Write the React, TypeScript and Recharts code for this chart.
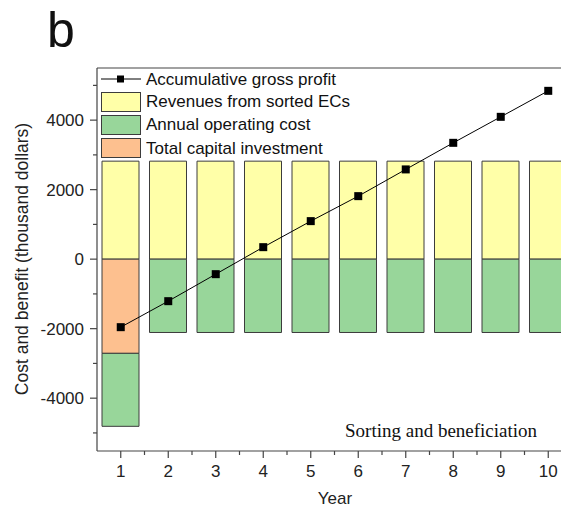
import { ComposedChart, Bar, Line, XAxis, YAxis, ReferenceLine } from 'recharts';

const years = [1, 2, 3, 4, 5, 6, 7, 8, 9, 10];
const revenues = [2820, 2820, 2820, 2820, 2820, 2820, 2820, 2820, 2820, 2820];
const capital = [-2710, 0, 0, 0, 0, 0, 0, 0, 0, 0];
const operating = [-2100, -2110, -2110, -2110, -2110, -2110, -2110, -2110, -2110, -2110];
const profit = [-1957, -1209, -432, 345, 1094, 1813, 2582, 3347, 4095, 4843];

const yTicks = [-5000, -4000, -3000, -2000, -1000, 0, 1000, 2000, 3000, 4000, 5000];
const xTicks = [1, 1.5, 2, 2.5, 3, 3.5, 4, 4.5, 5, 5.5, 6, 6.5, 7, 7.5, 8, 8.5, 9, 9.5, 10, 10.5];

const data = years.map((year, i) => ({
  year,
  revenue: revenues[i],
  capital: capital[i],
  operating: operating[i],
  profit: profit[i],
}));

const YELLOW = '#ffffa8';
const GREEN = '#98d69a';
const ORANGE = '#fdc08f';
const EDGE = '#3c3c3c';
const AXIS = '#444';
const FONT = 'Arial, "Liberation Sans", sans-serif';

const YTick = ({ x, y, payload }: any) => {
  const major = payload.value % 2000 === 0;
  return (
    <g>
      <line x1={x} x2={x - (major ? 7 : 4)} y1={y} y2={y} stroke={AXIS} strokeWidth={1.2} />
      {major && (
        <text x={x - 13} y={y + 6} textAnchor="end" fontSize={17} fill="#222" fontFamily={FONT}>
          {payload.value}
        </text>
      )}
    </g>
  );
};

const XTick = ({ x, y, payload }: any) => {
  const major = Number.isInteger(payload.value);
  return (
    <g>
      <line x1={x} x2={x} y1={y} y2={y + (major ? 7 : 4)} stroke={AXIS} strokeWidth={1.2} />
      {major && (
        <text x={x} y={y + 26} textAnchor="middle" fontSize={17} fill="#222" fontFamily={FONT}>
          {payload.value}
        </text>
      )}
    </g>
  );
};

const SquareDot = ({ cx, cy }: any) => (
  <rect x={cx - 4} y={cy - 4} width={8} height={8} fill="#000" />
);

const legendRows = [
  { label: 'Revenues from sorted ECs', color: YELLOW },
  { label: 'Annual operating cost', color: GREEN },
  { label: 'Total capital investment', color: ORANGE },
];

export default function App() {
  return (
    <div style={{ position: 'fixed', left: 0, top: 0, width: 561, height: 508, overflow: 'hidden', background: '#fff', fontFamily: FONT }}>
      <div style={{ position: 'absolute', left: 47, top: 5, fontSize: 50, lineHeight: '50px', color: '#111' }}>b</div>

      <ComposedChart
        width={600}
        height={508}
        data={data}
        stackOffset="sign"
        margin={{ top: 68, right: 28, bottom: 0, left: 0 }}
      >
        <XAxis
          dataKey="year"
          type="number"
          domain={[0.5, 10.5]}
          ticks={xTicks}
          interval={0}
          height={57}
          tickSize={0}
          tickMargin={0}
          tickLine={false}
          tick={<XTick />}
          axisLine={{ stroke: AXIS, strokeWidth: 1.2 }}
          allowDataOverflow
        />
        <YAxis
          type="number"
          domain={[-5520, 5500]}
          ticks={yTicks}
          interval={0}
          width={97}
          tickSize={0}
          tickMargin={0}
          tickLine={false}
          tick={<YTick />}
          axisLine={{ stroke: AXIS, strokeWidth: 1.2 }}
          allowDataOverflow
        />
        <ReferenceLine y={5500} stroke={AXIS} strokeWidth={1.2} />
        <Bar dataKey="revenue" stackId="a" fill={YELLOW} stroke={EDGE} strokeWidth={1} barSize={37} isAnimationActive={false} />
        <Bar dataKey="capital" stackId="a" fill={ORANGE} stroke={EDGE} strokeWidth={1} barSize={37} isAnimationActive={false} />
        <Bar dataKey="operating" stackId="a" fill={GREEN} stroke={EDGE} strokeWidth={1} barSize={37} isAnimationActive={false} />
        <Line
          dataKey="profit"
          stroke="#000"
          strokeWidth={1}
          dot={<SquareDot />}
          activeDot={false}
          isAnimationActive={false}
        />
      </ComposedChart>

      {/* legend */}
      <div style={{ position: 'absolute', left: 100, top: 68, fontSize: 17, color: '#111', lineHeight: '23px' }}>
        <div style={{ display: 'flex', alignItems: 'center', height: 22 }}>
          <svg width={42} height={12} style={{ marginRight: 4 }}>
            <line x1={1} x2={41} y1={6} y2={6} stroke="#000" strokeWidth={1} />
            <rect x={17} y={2.5} width={7} height={7} fill="#000" />
          </svg>
          Accumulative gross profit
        </div>
        {legendRows.map((r) => (
          <div key={r.label} style={{ display: 'flex', alignItems: 'center', height: 23.3 }}>
            <div style={{ width: 38, height: 18, background: r.color, border: `1px solid ${EDGE}`, marginRight: 5, marginLeft: 1 }} />
            {r.label}
          </div>
        ))}
      </div>

      <div style={{ position: 'absolute', left: 345, top: 420, fontSize: 19, fontFamily: '"Liberation Serif", "Times New Roman", serif', color: '#111' }}>
        Sorting and beneficiation
      </div>

      <div
        style={{
          position: 'absolute',
          left: 22,
          top: 259,
          transform: 'translate(-50%, -50%) rotate(-90deg)',
          whiteSpace: 'nowrap',
          fontSize: 17.5,
          color: '#222',
        }}
      >
        Cost and benefit (thousand dollars)
      </div>

      <div style={{ position: 'absolute', left: 335, top: 499, transform: 'translate(-50%, -50%)', fontSize: 17, color: '#222' }}>
        Year
      </div>
    </div>
  );
}
